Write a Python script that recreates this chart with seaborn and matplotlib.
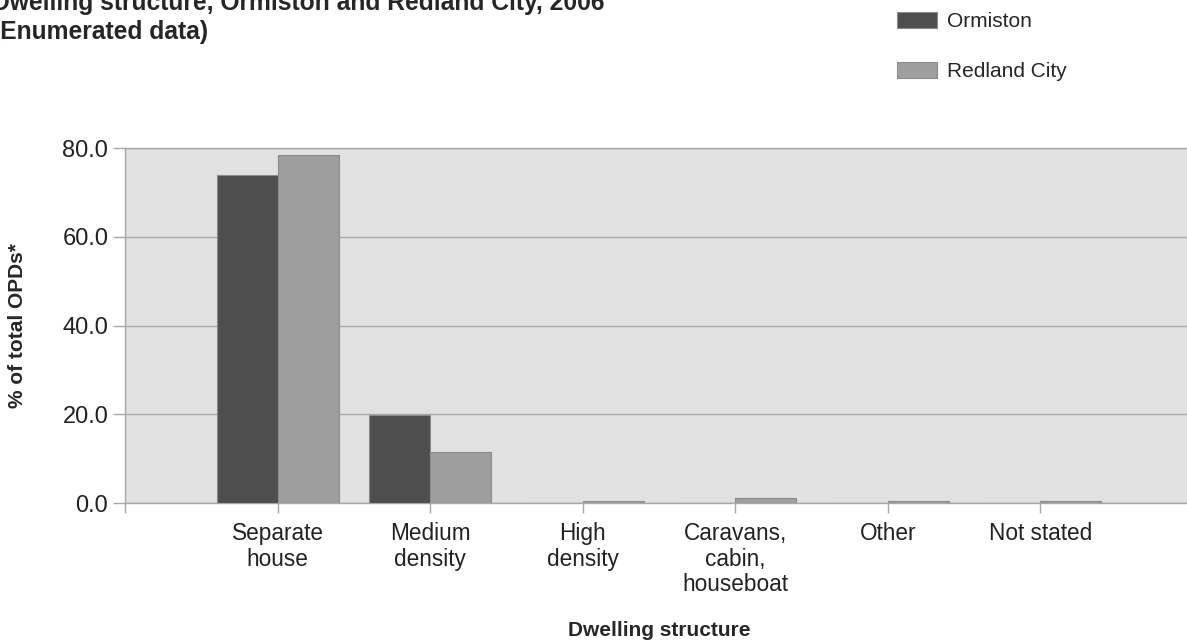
import matplotlib
matplotlib.use("Agg")
import matplotlib.pyplot as plt
import seaborn as sns
import pandas as pd

categories = ["Separate\nhouse", "Medium\ndensity", "High\ndensity",
              "Caravans,\ncabin,\nhouseboat", "Other", "Not stated"]
series = ["Ormiston", "Redland City"]
ormiston = [74.0, 19.8, 0.0, 0.0, 0.0, 0.0]
redland = [78.5, 11.5, 0.5, 1.1, 0.4, 0.4]
yticks = [0, 20, 40, 60, 80]

df = pd.DataFrame({
    "Dwelling": categories * 2,
    "Area": [series[0]] * len(categories) + [series[1]] * len(categories),
    "Value": ormiston + redland,
})

sns.set_theme(style="white")
plt.rcParams["font.family"] = ["Liberation Sans", "DejaVu Sans"]

W, H = 1187, 644
fig = plt.figure(figsize=(W / 100, H / 100), dpi=100)
ax = fig.add_axes([125 / W, 141 / H, 1068 / W, 355 / H])
ax.set_facecolor("#e1e1e1")

sns.barplot(data=df, x="Dwelling", y="Value", hue="Area", order=categories,
            hue_order=series, palette=["#4e4e4e", "#9e9e9e"], width=0.8,
            saturation=1, edgecolor="#8c8c8c", linewidth=0.8, ax=ax, zorder=3)

ax.set_xlim(-1, len(categories))
ax.set_ylim(0, 80)
ax.set_xticks(range(-1, len(categories)))
ax.set_xticklabels([""] + categories)
ax.set_yticks(yticks)
ax.set_yticklabels([f"{v:.1f}" for v in yticks])

ax.yaxis.grid(True, color="#a8a8a8", linewidth=1)
ax.xaxis.grid(False)
ax.set_axisbelow(True)

for side in ["left", "bottom", "top"]:
    ax.spines[side].set_visible(True)
    ax.spines[side].set_color("#a8a8a8")
    ax.spines[side].set_linewidth(1)
ax.spines["right"].set_visible(False)

ax.tick_params(axis="y", left=True, length=9, width=1, color="#a8a8a8",
               pad=3, labelsize=17, labelcolor="#222222")
ax.tick_params(axis="x", bottom=True, length=7, width=1, color="#a8a8a8",
               pad=7, labelsize=16.3, labelcolor="#222222")
for t in ax.get_xticklabels():
    t.set_linespacing(1.12)

ax.set_ylabel("% of total OPDs*", fontsize=15, fontweight="bold", va="center")
ax.yaxis.set_label_coords((18 - 125) / 1068, 0.5)
ax.set_xlabel("Dwelling structure", fontsize=15, fontweight="bold", va="center")
ax.xaxis.set_label_coords(0.5, -(630 - 503) / 355)

handles, labels = ax.get_legend_handles_labels()
if ax.get_legend() is not None:
    ax.get_legend().remove()
fs = 15
px = fs * 100 / 72
fig.legend(handles, labels, loc="upper left",
           bbox_to_anchor=(897 / W, 1 - 12 / H), frameon=False, fontsize=fs,
           handlelength=40 / px, handleheight=17 / px, handletextpad=10 / px,
           labelspacing=1.45, borderpad=0, borderaxespad=0)

fig.text(-8 / W, 1 - 10 / H, "Dwelling structure, Ormiston and Redland City, 2006",
         fontsize=17.75, fontweight="bold", va="baseline", ha="left")
fig.text(-8 / W, 1 - 39 / H, "(Enumerated data)",
         fontsize=17.75, fontweight="bold", va="baseline", ha="left")

fig.savefig("out.png", dpi=100)
